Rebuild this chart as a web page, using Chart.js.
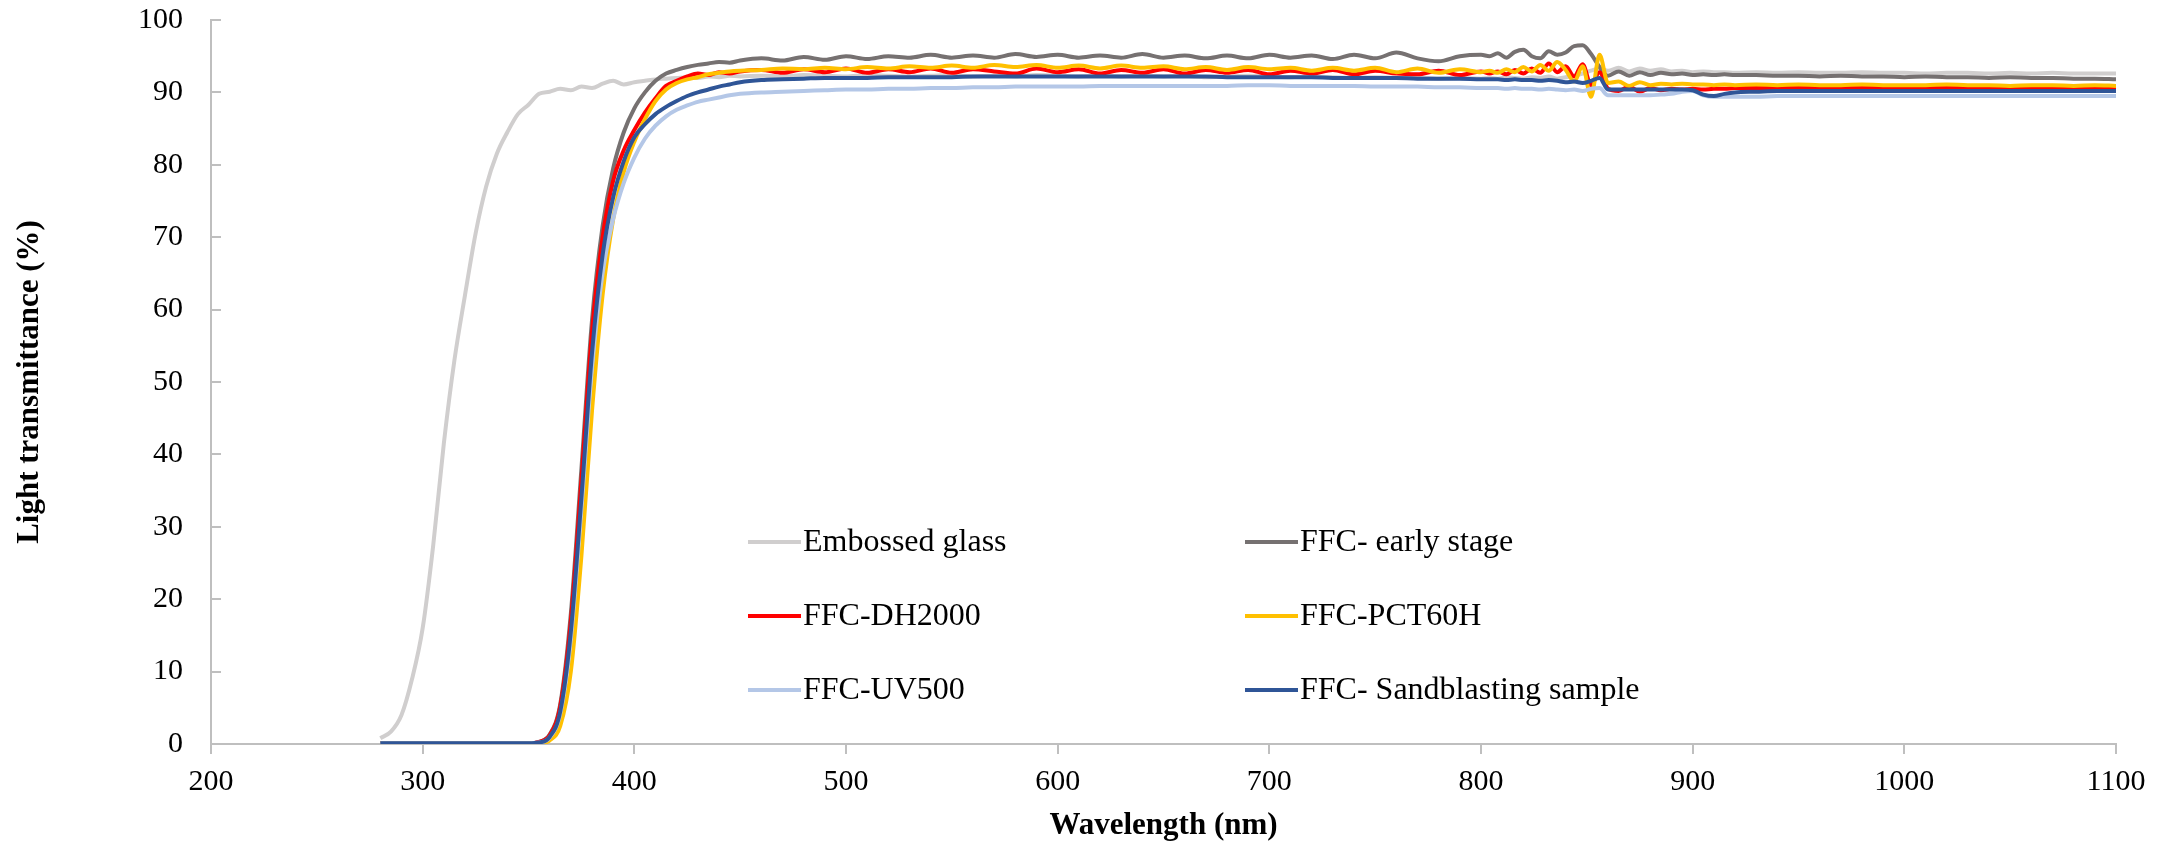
<!DOCTYPE html>
<html>
<head>
<meta charset="utf-8">
<title>Light transmittance</title>
<script src="https://cdn.jsdelivr.net/npm/chart.js@4.4.0/dist/chart.umd.min.js"></script>
<style>
  html, body { margin: 0; padding: 0; background: #fff; }
  canvas { display: block; }
</style>
</head>
<body>
<canvas id="transmittanceChart" width="2167" height="845"></canvas>
<script>
// wavelengths (nm), shared by every series
const wavelengths = [
  280, 285, 290, 295, 300, 305, 310, 315, 320, 325, 330, 335, 340, 345, 350, 355, 360, 365,
  370, 375, 380, 385, 390, 395, 400, 405, 410, 415, 420, 425, 430, 435, 440, 445, 450,
  460, 470, 480, 490, 500, 510, 520, 530, 540, 550, 560, 570, 580, 590, 600, 610, 620,
  630, 640, 650, 660, 670, 680, 690, 700, 710, 720, 730, 740, 750, 760, 770, 780, 790, 800,
  804, 808, 812, 816, 820, 824, 828, 832, 836, 840, 844, 848, 852, 856, 860,
  865, 870, 875, 880, 885, 890, 895, 900, 905, 910, 915, 920,
  930, 940, 950, 960, 970, 980, 990, 1000, 1010, 1020, 1030, 1040, 1050, 1060, 1070, 1080, 1090, 1100
];

const embossedGlass = [
  0.8, 1.7, 4.0, 9.0, 16.0, 27.5, 41.5, 53.0, 62.0, 70.5, 77.0, 81.5, 84.5, 87.0, 88.3, 89.8, 90.1, 90.5,
  90.3, 90.8, 90.6, 91.2, 91.6, 91.1, 91.4, 91.6, 91.8, 91.9, 92.0, 92.1, 92.0, 92.2, 92.1, 92.3, 92.2,
  92.3, 92.2, 92.4, 92.3, 92.2, 92.4, 92.3, 92.2, 92.3, 92.4, 92.2, 92.3, 92.2, 92.4, 92.3, 92.2, 92.3,
  92.2, 92.3, 92.2, 92.3, 92.1, 92.2, 92.3, 92.2, 92.1, 92.2, 92.1, 92.0, 92.1, 92.0, 92.1, 91.9, 92.0, 91.9,
  92.0, 91.9, 92.1, 92.0, 91.9, 92.1, 92.0, 92.2, 91.9, 92.1, 92.3, 92.6, 93.0, 93.3, 93.0,
  93.4, 92.9, 93.3, 93.0, 93.2, 92.9, 93.0, 92.8, 92.9, 92.8, 92.8, 92.7,
  92.8, 92.7, 92.8, 92.7, 92.7, 92.8, 92.7, 92.7, 92.6, 92.7, 92.7, 92.6, 92.7, 92.6, 92.7, 92.6, 92.6, 92.6
];

const earlyStage = [
  0.1, 0.1, 0.1, 0.1, 0.1, 0.1, 0.1, 0.1, 0.1, 0.1, 0.1, 0.1, 0.1, 0.1, 0.1, 0.3, 1.3, 5.5,
  18.0, 38.0, 58.5, 71.5, 79.5, 84.5, 87.8, 90.0, 91.6, 92.6, 93.1, 93.5, 93.8, 94.0, 94.2, 94.1, 94.4,
  94.7, 94.4, 94.9, 94.5, 95.0, 94.6, 95.0, 94.8, 95.2, 94.8, 95.1, 94.8, 95.3, 94.9, 95.2, 94.8, 95.1,
  94.8, 95.3, 94.8, 95.1, 94.7, 95.1, 94.7, 95.2, 94.8, 95.1, 94.6, 95.2, 94.7, 95.5, 94.7, 94.3, 95.0, 95.2,
  95.0, 95.4, 94.8, 95.6, 95.9, 95.0, 94.7, 95.7, 95.2, 95.5, 96.4, 96.5, 95.3, 93.5, 92.3,
  92.9, 92.3, 92.8, 92.4, 92.7, 92.5, 92.6, 92.4, 92.5, 92.4, 92.5, 92.4,
  92.4, 92.3, 92.3, 92.2, 92.3, 92.2, 92.2, 92.1, 92.2, 92.1, 92.1, 92.0, 92.1, 92.0, 92.0, 91.9, 91.9, 91.8
];

const dh2000 = [
  0.1, 0.1, 0.1, 0.1, 0.1, 0.1, 0.1, 0.1, 0.1, 0.1, 0.1, 0.1, 0.1, 0.1, 0.1, 0.3, 1.2, 5.2,
  17.0, 36.5, 57.0, 70.0, 77.8, 82.0, 84.8, 87.2, 89.2, 90.9, 91.6, 92.2, 92.6, 92.4, 92.8, 92.6, 92.9,
  93.1, 92.7, 93.2, 92.8, 93.3, 92.7, 93.2, 92.8, 93.3, 92.7, 93.2, 92.9, 92.6, 93.3, 92.8, 93.2, 92.6,
  93.1, 92.7, 93.2, 92.6, 93.1, 92.7, 93.1, 92.5, 93.0, 92.6, 93.1, 92.5, 93.0, 92.6, 92.5, 93.0, 92.4, 92.9,
  92.6, 92.9, 92.5, 93.1, 92.6, 93.3, 92.7, 94.0, 92.8, 93.6, 92.2, 93.9, 91.0, 92.8, 90.5,
  90.2, 90.8, 90.1, 90.6, 90.3, 90.5, 90.4, 90.5, 90.4, 90.5, 90.5, 90.6,
  90.6, 90.6, 90.7, 90.6, 90.6, 90.7, 90.6, 90.6, 90.7, 90.6, 90.6, 90.6, 90.7, 90.6, 90.6, 90.6, 90.7, 90.6
];

const pct60h = [
  0.1, 0.1, 0.1, 0.1, 0.1, 0.1, 0.1, 0.1, 0.1, 0.1, 0.1, 0.1, 0.1, 0.1, 0.1, 0.1, 0.5, 2.5,
  10.0, 26.0, 46.0, 62.0, 72.5, 79.0, 83.2, 86.3, 88.8, 90.4, 91.3, 91.8, 92.1, 92.5, 92.7, 92.9, 93.0,
  93.1, 93.3, 93.2, 93.4, 93.2, 93.5, 93.3, 93.6, 93.4, 93.7, 93.4, 93.8, 93.5, 93.8, 93.4, 93.7, 93.3,
  93.7, 93.4, 93.6, 93.2, 93.5, 93.1, 93.5, 93.2, 93.4, 93.0, 93.4, 93.0, 93.4, 92.8, 93.3, 92.7, 93.2, 92.8,
  93.0, 92.7, 93.2, 92.8, 93.5, 92.9, 93.8, 93.0, 94.2, 93.1, 91.5, 93.6, 89.4, 95.2, 91.3,
  91.5, 90.9, 91.4, 91.0, 91.2, 91.1, 91.2, 91.1, 91.1, 91.0, 91.1, 91.0,
  91.1, 91.0, 91.1, 91.0, 91.0, 91.1, 91.0, 91.0, 91.0, 91.1, 91.0, 91.0, 90.9, 91.0, 91.0, 90.9, 91.0, 90.9
];

const uv500 = [
  0.1, 0.1, 0.1, 0.1, 0.1, 0.1, 0.1, 0.1, 0.1, 0.1, 0.1, 0.1, 0.1, 0.1, 0.1, 0.2, 0.9, 4.2,
  14.5, 32.5, 52.0, 65.0, 72.5, 77.5, 81.0, 83.6, 85.4, 86.7, 87.6, 88.2, 88.7, 89.0, 89.3, 89.6, 89.8,
  90.0, 90.1, 90.2, 90.3, 90.4, 90.4, 90.5, 90.5, 90.6, 90.6, 90.7, 90.7, 90.8, 90.8, 90.8, 90.8, 90.9,
  90.9, 90.9, 90.9, 90.9, 90.9, 90.9, 91.0, 91.0, 90.9, 90.9, 90.9, 90.9, 90.8, 90.8, 90.8, 90.7, 90.7, 90.6,
  90.6, 90.6, 90.5, 90.6, 90.5, 90.5, 90.4, 90.5, 90.4, 90.3, 90.4, 90.2, 90.5, 90.6, 89.6,
  89.6, 89.6, 89.6, 89.6, 89.7, 89.8, 90.1, 90.2, 89.6, 89.4, 89.4, 89.4,
  89.4, 89.5, 89.5, 89.5, 89.5, 89.5, 89.5, 89.5, 89.5, 89.5, 89.5, 89.5, 89.5, 89.5, 89.5, 89.5, 89.5, 89.5
];

const sandblasting = [
  0.1, 0.1, 0.1, 0.1, 0.1, 0.1, 0.1, 0.1, 0.1, 0.1, 0.1, 0.1, 0.1, 0.1, 0.1, 0.2, 1.0, 4.5,
  15.5, 34.0, 54.0, 67.5, 75.5, 80.5, 83.8, 85.6, 87.0, 88.0, 88.8, 89.5, 90.0, 90.4, 90.8, 91.1, 91.4,
  91.7, 91.8, 91.9, 92.0, 92.0, 92.0, 92.1, 92.1, 92.1, 92.1, 92.2, 92.2, 92.2, 92.2, 92.2, 92.2, 92.2,
  92.2, 92.2, 92.2, 92.2, 92.2, 92.1, 92.1, 92.1, 92.1, 92.1, 92.0, 92.0, 92.0, 92.0, 91.9, 91.9, 91.9, 91.8,
  91.8, 91.8, 91.7, 91.8, 91.7, 91.7, 91.6, 91.7, 91.6, 91.4, 91.5, 91.3, 91.6, 92.0, 90.4,
  90.4, 90.4, 90.4, 90.4, 90.4, 90.4, 90.4, 90.3, 89.7, 89.5, 89.8, 90.0,
  90.1, 90.2, 90.2, 90.2, 90.2, 90.2, 90.2, 90.2, 90.2, 90.2, 90.2, 90.2, 90.2, 90.2, 90.2, 90.2, 90.2, 90.2
];

const seriesNames = ['Embossed glass', 'FFC- early stage', 'FFC-DH2000', 'FFC-PCT60H', 'FFC-UV500', 'FFC- Sandblasting sample'];
const seriesValues = [embossedGlass, earlyStage, dh2000, pct60h, uv500, sandblasting];
const seriesColors = ['#D0CECE', '#767171', '#FF0000', '#FFC000', '#B4C7E7', '#2F5597'];

const serif = '"Liberation Serif", "Times New Roman", serif';

// legend boxes inside the plot, two columns x three rows
const legendCols = [748, 1245];
const legendRows = [542, 616, 690];

const extras = {
    id: 'extras',
    afterDraw(chart) {
        const ctx = chart.ctx;
        const y = chart.scales.y;
        ctx.save();

        // y ticks point into the plot area
        ctx.strokeStyle = '#BFBFBF';
        ctx.lineWidth = 2;
        y.ticks.forEach(t => {
            const py = Math.round(y.getPixelForValue(t.value));
            ctx.beginPath();
            ctx.moveTo(y.right, py);
            ctx.lineTo(y.right + 10, py);
            ctx.stroke();
        });

        // legend
        ctx.font = '32px ' + serif;
        ctx.textBaseline = 'middle';
        ctx.textAlign = 'left';
        chart.data.datasets.forEach((ds, i) => {
            const lx = legendCols[i % 2];
            const ly = legendRows[Math.floor(i / 2)];
            ctx.strokeStyle = ds.borderColor;
            ctx.lineWidth = 4;
            ctx.beginPath();
            ctx.moveTo(lx, ly);
            ctx.lineTo(lx + 53, ly);
            ctx.stroke();
            ctx.fillStyle = '#000';
            ctx.fillText(ds.label, lx + 55, ly + 1);
        });
        ctx.restore();
    }
};

const ctx = document.getElementById('transmittanceChart').getContext('2d');
new Chart(ctx, {
    type: 'line',
    data: {
        datasets: seriesNames.map((name, i) => ({
            label: name,
            data: wavelengths.map((w, k) => ({x: w, y: seriesValues[i][k]})),
            borderColor: seriesColors[i],
            backgroundColor: seriesColors[i],
            borderWidth: 4,
            pointRadius: 0,
            cubicInterpolationMode: 'monotone',
            fill: false,
            order: seriesNames.length - i
        }))
    },
    options: {
        responsive: false,
        devicePixelRatio: 1,
        animation: false,
        layout: {padding: {left: 0, top: 20, right: 51, bottom: 0}},
        plugins: {
            legend: {display: false},
            tooltip: {enabled: false}
        },
        scales: {
            x: {
                type: 'linear',
                min: 200,
                max: 1100,
                afterFit: s => {
                    s.height = 101;
                    s.paddingLeft = 0;
                    s.paddingRight = 0;
                },
                ticks: {
                    stepSize: 100,
                    color: '#000',
                    padding: 10,
                    font: {family: serif, size: 30},
                    callback: v => String(v)
                },
                grid: {drawOnChartArea: false, drawTicks: true, tickLength: 10, color: '#BFBFBF', lineWidth: 2},
                border: {color: '#BFBFBF', width: 2},
                title: {
                    display: true,
                    text: 'Wavelength (nm)',
                    color: '#000',
                    padding: {top: 0, bottom: 0},
                    font: {family: serif, size: 31, weight: 'bold'}
                }
            },
            y: {
                min: 0,
                max: 100,
                afterFit: s => {
                    s.width = 211;
                    s.paddingTop = 0;
                    s.paddingBottom = 0;
                },
                ticks: {
                    stepSize: 10,
                    color: '#000',
                    padding: 28,
                    font: {family: serif, size: 30}
                },
                grid: {drawOnChartArea: false, drawTicks: false},
                border: {color: '#BFBFBF', width: 2},
                title: {
                    display: true,
                    text: 'Light transmittance (%)',
                    color: '#000',
                    padding: {top: 11, bottom: 0},
                    font: {family: serif, size: 31, weight: 'bold'}
                }
            }
        }
    },
    plugins: [extras]
});
</script>
</body>
</html>
